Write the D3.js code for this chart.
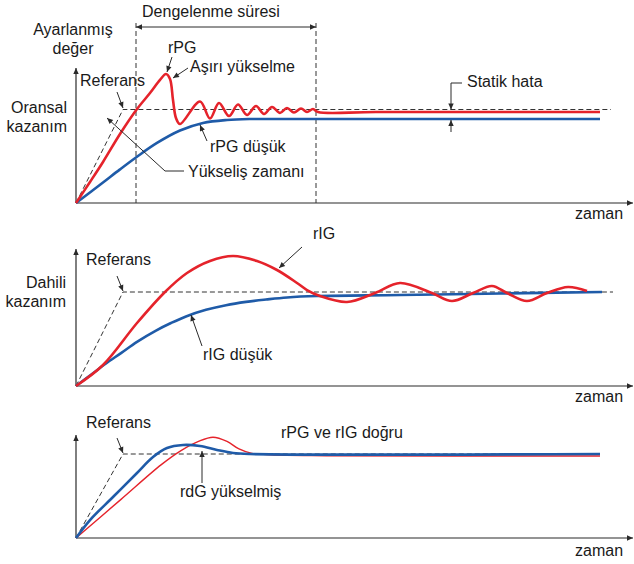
<!DOCTYPE html>
<html>
<head>
<meta charset="utf-8">
<script src="https://cdn.jsdelivr.net/npm/d3@7"></script>
<style>
  html, body { margin: 0; padding: 0; background: #fff; }
  svg { display: block; }
  text { font-family: "Liberation Sans", Arial, Helvetica, sans-serif; font-size: 16px; fill: #1a1a1a; }
</style>
</head>
<body>
<svg id="chart" width="634" height="564"></svg>
<script>
// ---------- DATA (time units, value in % of reference) ----------
// Panel 1: proportional gain
const p1Reference = [[0, 0], [9.4, 100], [107, 100]];
const p1HighGain = [[0,0],[2.8,22.5],[5.4,43.9],[8.8,73.8],[12.2,100.5],[14.8,117.6],[16.8,131.6],[18,138],
  [18.8,132.6],[19.4,110.2],[20,90.9],[20.8,84.5],[24.8,108.6],[26.8,90.4],[28.6,107],[30.6,93],
  [32.4,105.3],[34.2,94.1],[36,103.7],[37.6,95.2],[39.2,102.7],[40.8,96.3],[42.2,101.6],[43.6,96.8],
  [45,101.1],[46.2,97.3],[47.4,100.5],[48.4,97.3],[60,97.3],[104.8,97.3]];
const p1LowGain = [[0,0],[5.4,22],[8.8,36],[12.2,49.5],[16.2,64.2],[20.8,77.5],[25.4,85.6],
  [30.2,88.8],[34.8,89.8],[44.8,89.8],[104.8,89.8]];
const settlingTime = [12, 48];

// Panel 2: integral gain
const p2Reference = [[0, 0], [9.4, 100], [107.4, 100]];
const p2HighGain = [[0,0],[5.4,22.3],[12.2,67],[17.8,100],[22.2,120.2],[26.8,133],[31.4,138.3],[36.2,133],
  [40.2,123.4],[44.2,109.6],[46.2,102.1],[48.8,95.7],[54.2,89.4],[59.8,98.9],[64.8,109.6],[71.2,98.9],
  [75.2,90.4],[79.4,98.9],[83.2,106.4],[86.2,98.9],[90.2,90.4],[94.2,98.9],[98.4,105.3],[102.2,101.1]];
const p2LowGain = [[0,0],[3,12],[6,24],[9,35],[12.2,47],[16,59],[19,67],[22,74],[26,81],[30,86],
  [34,89.5],[38,92],[42.2,94.2],[48.2,95.7],[64.8,96.8],[84.8,98.4],[105.2,100]];

// Panel 3: derivative gain raised
const p3Reference = [[0, 0], [9.4, 100], [104.8, 100]];
const p3Tuned = [[0,0],[9,46],[17,87],[21,104],[24.5,115],[27.4,120],[30.2,115],[32.6,106],[35,101],
  [39,99],[50,98],[104.8,97.6]];
const p3DerivHigh = [[0,0],[2.8,21.4],[7.4,48.8],[12.2,77.4],[15.4,96.4],[18.2,107.1],[21.4,110.7],
  [24.8,109.5],[28.2,104.8],[31.4,101.2],[34.8,100],[104.8,100]];

const timeAxisEnd = 111.4;
const valueAxisTop = [144.4, 145.7, 122.6];

// ---------- DRAWING ----------
const RED = "#e5232b", BLUE = "#1f5ba8", INK = "#2a2a2a";
const svg = d3.select("#chart");
const defs = svg.append("defs");
function marker(id, w, h) {
  defs.append("marker").attr("id", id).attr("viewBox", "0 0 10 10")
    .attr("refX", 10).attr("refY", 5).attr("markerWidth", w).attr("markerHeight", h)
    .attr("markerUnits", "userSpaceOnUse").attr("orient", "auto-start-reverse")
    .append("path").attr("d", "M0,0.5 L10,5 L0,9.5 z").attr("fill", INK);
}
marker("axArrow", 8, 6);
marker("ptArrow", 8, 6);

const x = d3.scaleLinear().domain([0, 100]).range([76, 576]);
const yScales = [
  d3.scaleLinear().domain([0, 100]).range([203, 109.5]),
  d3.scaleLinear().domain([0, 100]).range([386, 292]),
  d3.scaleLinear().domain([0, 100]).range([538, 454])
];

function drawAxes(y, top) {
  const g = svg.append("g");
  g.append("line").attr("x1", x(0)).attr("x2", x(0)).attr("y1", y(0)).attr("y2", y(top))
    .attr("stroke", INK).attr("stroke-width", 1.2).attr("marker-end", "url(#axArrow)");
  g.append("line").attr("x1", x(0)).attr("x2", x(timeAxisEnd)).attr("y1", y(0)).attr("y2", y(0))
    .attr("stroke", INK).attr("stroke-width", 1.2).attr("marker-end", "url(#axArrow)");
}
function curve(y, data, color, width) {
  const line = d3.line().x(d => x(d[0])).y(d => y(d[1])).curve(d3.curveCatmullRom.alpha(0.5));
  svg.append("path").attr("d", line(data)).attr("fill", "none")
    .attr("stroke", color).attr("stroke-width", width)
    .attr("stroke-linejoin", "round").attr("stroke-linecap", "butt");
}
function dashedRef(y, data) {
  const line = d3.line().x(d => x(d[0])).y(d => y(d[1]));
  svg.append("path").attr("d", line(data)).attr("fill", "none")
    .attr("stroke", "#333").attr("stroke-width", 1).attr("stroke-dasharray", "5,3");
}
function label(t, px, py, anchor) {
  svg.append("text").attr("x", px).attr("y", py).attr("text-anchor", anchor || "start").text(t);
}
function pointer(d) {
  svg.append("path").attr("d", d).attr("fill", "none").attr("stroke", INK)
    .attr("stroke-width", 1).attr("marker-end", "url(#ptArrow)");
}

// Panel 1
{
  const y = yScales[0];
  drawAxes(y, valueAxisTop[0]);
  settlingTime.forEach(t => {
    svg.append("line").attr("x1", x(t)).attr("x2", x(t)).attr("y1", 23).attr("y2", y(0))
      .attr("stroke", "#333").attr("stroke-width", 1).attr("stroke-dasharray", "5,3");
  });
  svg.append("line").attr("x1", x(settlingTime[0])).attr("x2", x(settlingTime[1]))
    .attr("y1", 27).attr("y2", 27).attr("stroke", INK).attr("stroke-width", 1)
    .attr("marker-start", "url(#ptArrow)").attr("marker-end", "url(#ptArrow)");
  dashedRef(y, p1Reference);
  curve(y, p1LowGain, BLUE, 2.6);
  curve(y, p1HighGain, RED, 2.6);

  label("Dengelenme süresi", 211, 17, "middle");
  label("Ayarlanmış", 73, 34.5, "middle");
  label("değer", 73, 54, "middle");
  label("Oransal", 67, 113, "end");
  label("kazanım", 67, 131.5, "end");
  label("Referans", 80, 86);
  pointer("M117,92 L123,108");
  label("rPG", 168, 53);
  pointer("M172,57 L167,72");
  label("Aşırı yükselme", 190, 71.5);
  pointer("M188,68 L173,78");
  label("rPG düşük", 210, 151.5);
  pointer("M207,141 L200,125");
  label("Yükseliş zamanı", 188, 176.5);
  pointer("M184,171 L165,171 L107,118");
  label("Statik hata", 467, 87);
  pointer("M462,83 L451,83 L451,109.5");
  pointer("M451,132 L451,120");
  label("zaman", 575, 218.5);
}

// Panel 2
{
  const y = yScales[1];
  drawAxes(y, valueAxisTop[1]);
  dashedRef(y, p2Reference);
  curve(y, p2LowGain, BLUE, 2.6);
  curve(y, p2HighGain, RED, 2.6);
  label("Referans", 86, 265);
  pointer("M117,276 L123,291");
  label("Dahili", 66, 288, "end");
  label("kazanım", 66, 307, "end");
  label("rIG", 313, 239);
  pointer("M302,247 L279,268");
  label("rIG düşük", 203, 360);
  pointer("M202,346 L191,315");
  label("zaman", 575, 402);
}

// Panel 3
{
  const y = yScales[2];
  drawAxes(y, valueAxisTop[2]);
  dashedRef(y, p3Reference);
  curve(y, p3Tuned, RED, 1.4);
  curve(y, p3DerivHigh, BLUE, 2.6);
  label("Referans", 86, 428);
  pointer("M117,438 L123,453");
  label("rPG ve rIG doğru", 281, 438);
  label("rdG yükselmiş", 180, 497);
  pointer("M202,483 L202,451");
  label("zaman", 575, 556);
}
</script>
</body>
</html>
